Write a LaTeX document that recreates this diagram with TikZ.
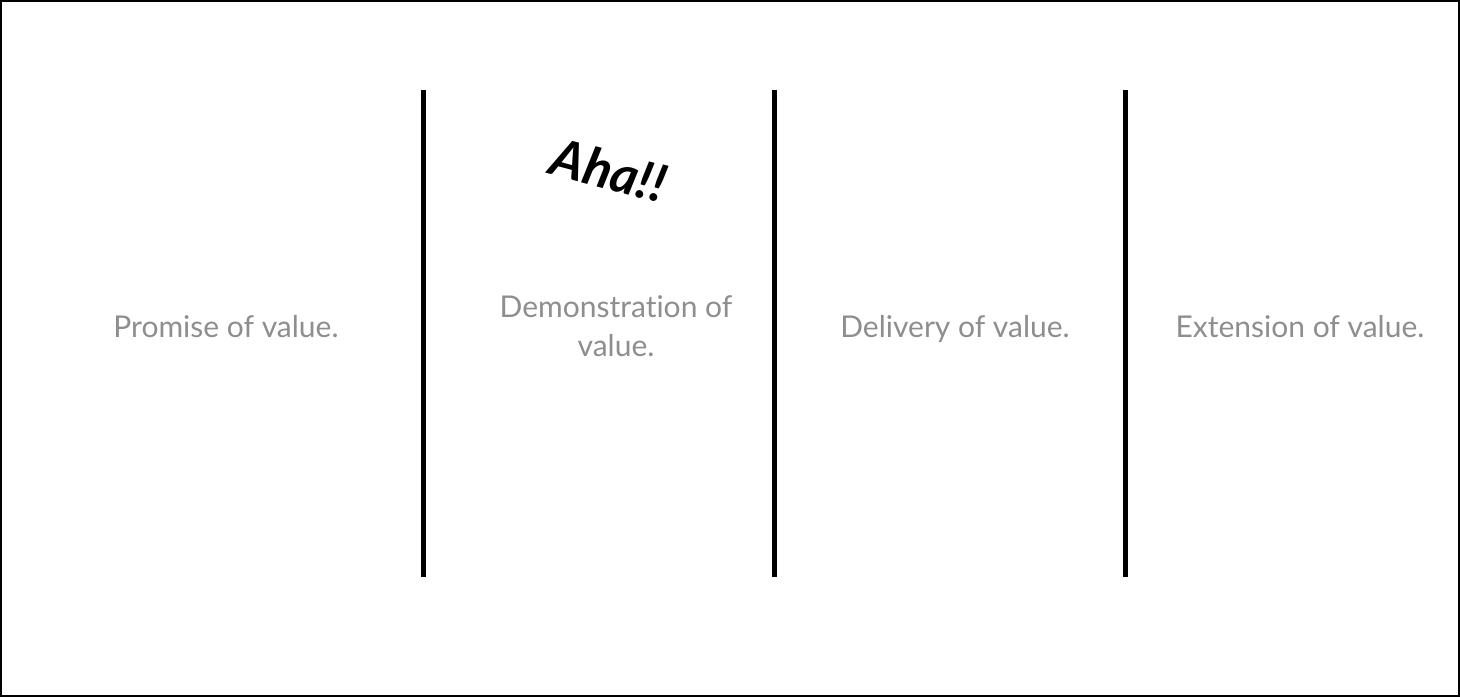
\documentclass[tikz,border=0pt]{standalone}
\usepackage{fontspec}
\setmainfont[Ligatures=NoCommon]{Lato}
\definecolor{txtgray}{HTML}{8E8E8E}
\begin{document}
\begin{tikzpicture}[x=1pt,y=-1pt,
  divider/.style={line width=5pt,black},
  label/.style={text=txtgray,font=\fontsize{30}{39}\selectfont,align=center,inner sep=0pt},
  single/.style={label,text height=21pt,text depth=7pt},
  aha/.style={font=\fontsize{52}{52}\selectfont\bfseries\itshape,inner sep=0pt,rotate=-15}]
\draw[line width=2pt,fill=white] (1,1) rectangle (1459,696);
\useasboundingbox (0,0) rectangle (1460,697);
\coordinate (d1t) at (423,90); \coordinate (d1b) at (423,577);
\coordinate (d2t) at (774,90); \coordinate (d2b) at (774,577);
\coordinate (d3t) at (1125,90); \coordinate (d3b) at (1125,577);
\draw[divider] (d1t) -- (d1b);
\draw[divider] (d2t) -- (d2b);
\draw[divider] (d3t) -- (d3b);
\node[single] (p1) at (226,330) {Promise of value.};
\node[label] (p2) at (616,326) {Demonstration of\\value.};
\node[single] (p3) at (955,330) {Delivery of value.};
\node[single] (p4) at (1300,330) {Extension of value.};
\node[aha] (aha) at (609,170) {Aha!!};
\end{tikzpicture}
\end{document}
